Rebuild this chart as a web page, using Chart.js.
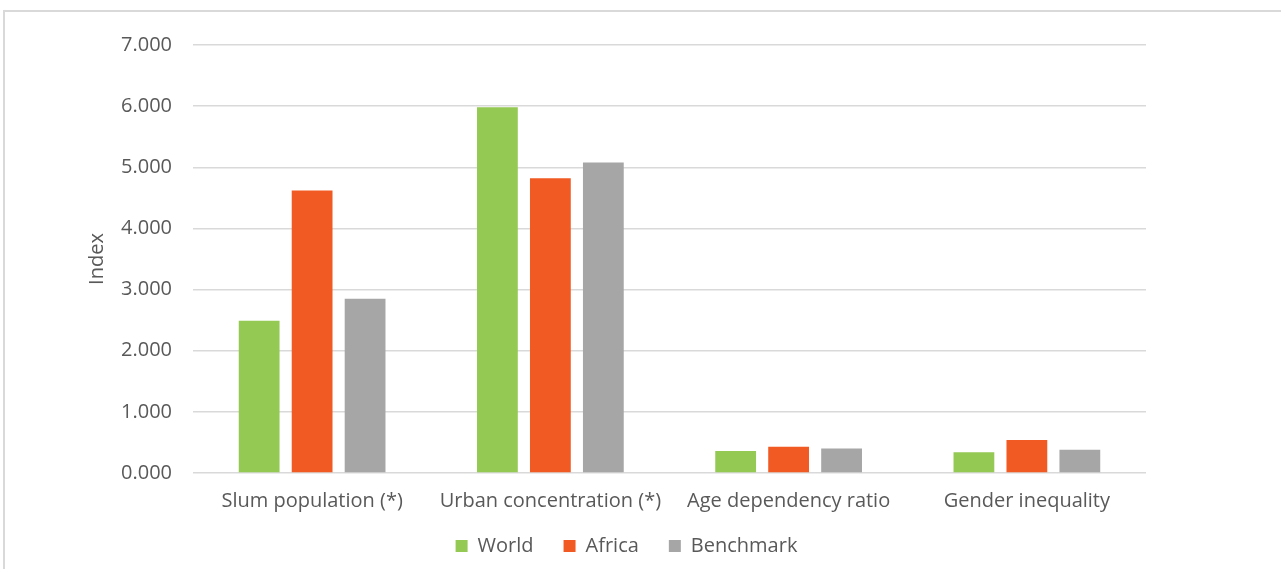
<!DOCTYPE html>
<html>
<head>
<meta charset="utf-8">
<script src="https://cdn.jsdelivr.net/npm/chart.js@4"></script>
<style>
  html, body { margin: 0; padding: 0; background: #fff; }
  #frame {
    position: absolute; left: 3px; top: 10px; width: 1278px; height: 559px;
    border-top: 2px solid #d9d9d9; border-left: 2px solid #d9d9d9;
  }
  #wrap { position: absolute; left: 0; top: 0; width: 1281px; height: 569px; }
</style>
</head>
<body>
<div id="frame"></div>
<div id="wrap"><canvas id="grafico"></canvas></div>
<script>
const categorias = ['Slum population (*)', 'Urban concentration (*)', 'Age dependency ratio', 'Gender inequality'];
const world = [2.49, 5.98, 0.36, 0.34];
const africa = [4.62, 4.82, 0.43, 0.54];
const benchmark = [2.85, 5.08, 0.40, 0.38];
const yTicks = [0, 1, 2, 3, 4, 5, 6, 7];

const ctx = document.getElementById('grafico').getContext('2d');
const texto = '#595959';
const fonte = "'Open Sans', Lato, sans-serif";

// sobe a legenda para perto dos rotulos do eixo x
const ajusteLegenda = {
  id: 'ajusteLegenda',
  afterLayout(chart) {
    const lg = chart.legend;
    const h = lg.bottom - lg.top;
    lg.top = 506;
    lg.bottom = lg.top + h;
    lg.left += 11;
    lg.right += 11;
  }
};

new Chart(ctx, {
  type: 'bar',
  data: {
    labels: categorias,
    datasets: [
      { label: 'World', data: world, backgroundColor: '#94c954' },
      { label: 'Africa', data: africa, backgroundColor: '#f15a22' },
      { label: 'Benchmark', data: benchmark, backgroundColor: '#a6a6a6' }
    ]
  },
  options: {
    responsive: true,
    maintainAspectRatio: false,
    animation: false,
    categoryPercentage: 0.667,
    barPercentage: 0.77,
    layout: { padding: { left: 85, right: 135, top: 45, bottom: -12 } },
    plugins: {
      legend: {
        position: 'bottom',
        labels: {
          boxWidth: 12, boxHeight: 12, padding: 30,
          color: texto, font: { family: fonte, size: 20 }
        }
      },
      tooltip: { enabled: false }
    },
    scales: {
      x: {
        grid: { display: false },
        border: { display: false },
        ticks: { color: texto, font: { family: fonte, size: 20 }, padding: 8, maxRotation: 0 }
      },
      y: {
        min: 0, max: 7,
        afterBuildTicks: (axis) => { axis.ticks = yTicks.map(v => ({ value: v })); },
        grid: { color: '#d9d9d9', lineWidth: 1.5, drawTicks: false },
        border: { display: false },
        ticks: {
          color: texto, font: { family: fonte, size: 20 }, padding: 21,
          callback: (v) => Number(v).toFixed(3)
        },
        title: {
          display: true, text: 'Index', color: texto,
          font: { family: fonte, size: 20 }, padding: { top: 0, bottom: -9 }
        }
      }
    }
  },
  plugins: [ajusteLegenda]
});
</script>
</body>
</html>
